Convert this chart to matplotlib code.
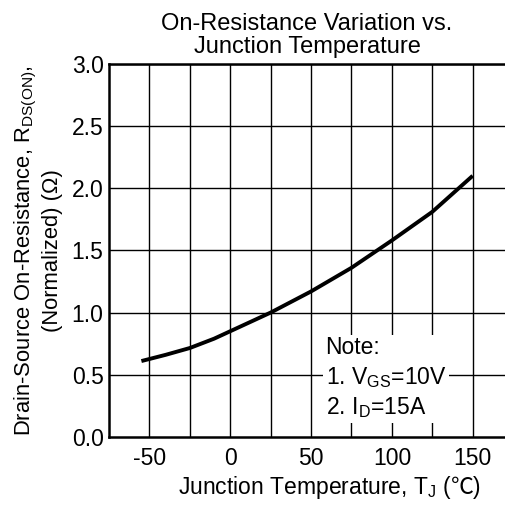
import numpy as np
import matplotlib
matplotlib.use("Agg")
import matplotlib.pyplot as plt

plt.rcParams['font.family'] = ['Liberation Sans', 'Noto Sans CJK SC', 'DejaVu Sans']
plt.rcParams['mathtext.fontset'] = 'custom'
plt.rcParams['mathtext.rm'] = 'Liberation Sans'
plt.rcParams['mathtext.it'] = 'Liberation Sans'
plt.rcParams['mathtext.sf'] = 'Noto Sans CJK SC'

# Data
temp = [-55, -40, -25, -10, 0, 25, 50, 75, 100, 125, 150]
rds_norm = [0.61, 0.66, 0.715, 0.79, 0.85, 1.00, 1.17, 1.36, 1.58, 1.81, 2.10]

x_ticks = [-50, 0, 50, 100, 150]
x_grid = [-50, -25, 0, 25, 50, 75, 100, 125, 150]
y_ticks = [0.0, 0.5, 1.0, 1.5, 2.0, 2.5, 3.0]

fig = plt.figure(figsize=(5.05, 5.11), dpi=100)
ax = fig.add_axes([0.216, 0.145, 0.784, 0.730])

ax.set_xlim(-75, 170)
ax.set_ylim(0, 3.0)

for xv in x_grid:
    ax.axvline(xv, color='black', lw=1.0, zorder=1)
for yv in y_ticks[1:]:
    ax.axhline(yv, color='black', lw=1.0, zorder=1)

ax.plot(temp, rds_norm, color='black', lw=2.8, zorder=3, solid_capstyle='butt')

ax.set_xticks(x_ticks)
ax.set_xticklabels([str(t) for t in x_ticks])
ax.set_yticks(y_ticks)
ax.set_yticklabels([f"{t:.1f}" for t in y_ticks])
ax.tick_params(length=0, labelsize=16.5)
ax.tick_params(axis='x', pad=7)
ax.tick_params(axis='y', pad=4)

for side in ['left', 'bottom', 'top']:
    ax.spines[side].set_linewidth(1.8)
ax.spines['right'].set_visible(False)

ax.set_title("On-Resistance Variation vs.\nJunction Temperature", fontsize=17, pad=8,
             linespacing=1.05)
ax.set_xlabel("Junction Temperature, $\\mathregular{T_J}$ ($\\mathsf{\u2103}$)", fontsize=16.5)
ax.xaxis.set_label_coords(0.558, -0.100)
ax.set_ylabel("Drain-Source On-Resistance, $\\mathregular{R_{DS(ON)}}$,\n(Normalized) (\u03a9)",
              fontsize=15.8, linespacing=1.2)
ax.yaxis.set_label_coords(-0.117, 0.499)

ax.text(59, 0.81,
        "Note:\n1. $\\mathregular{V_{GS}}$=10V\n2. $\\mathregular{I_D}$=15A",
        fontsize=16.5, va='top', ha='left', linespacing=1.3, zorder=4,
        bbox=dict(boxstyle='square,pad=0.1', facecolor='white', edgecolor='none'))

fig.savefig("out.png", dpi=100)
